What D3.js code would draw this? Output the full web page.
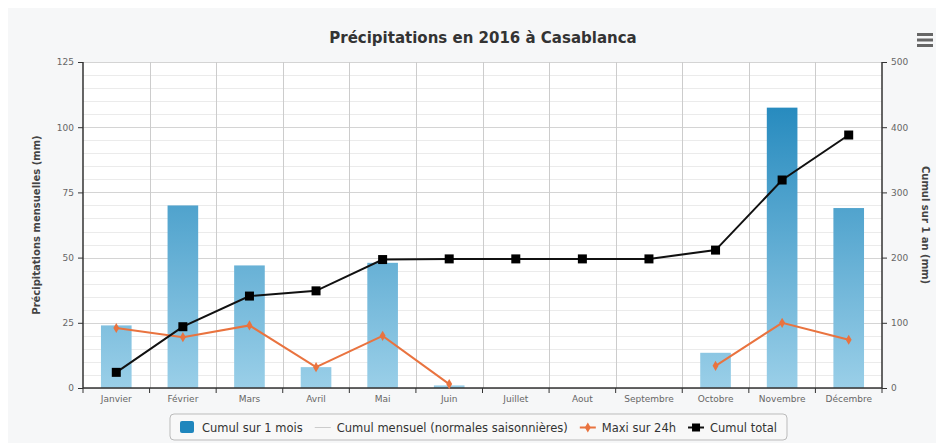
<!DOCTYPE html>
<html>
<head>
<meta charset="utf-8">
<script src="https://cdn.jsdelivr.net/npm/d3@7"></script>
<style>
  body { margin: 0; background: #fff; }
  svg text { font-family: "DejaVu Sans", sans-serif; }
</style>
</head>
<body>
<svg id="chart" width="936" height="443"></svg>
<script>
// données
let months = ['Janvier', 'Février', 'Mars', 'Avril', 'Mai', 'Juin', 'Juillet', 'Aout', 'Septembre', 'Octobre', 'Novembre', 'Décembre'];
let cumulMois = [24, 70, 47, 8, 48, 1, 0, 0, 0, 13.5, 107.5, 69];
let maxi24h = [23, 19.5, 24, 8, 20, 1.5, null, null, null, 8.5, 25, 18.5];
let cumulTotal = [24, 94, 141, 149, 197, 198, 198, 198, 198, 211.5, 319, 388];
let leftTicks = [0, 25, 50, 75, 100, 125];
let rightTicks = [0, 100, 200, 300, 400, 500];
let legendItems = ['Cumul sur 1 mois', 'Cumul mensuel (normales saisonnières)', 'Maxi sur 24h', 'Cumul total'];

let svg = d3.select('#chart');
let pLeft = 83, pRight = 882, pTop = 62, pBottom = 388;

// fond
svg.append('rect').attr('x', 8).attr('y', 8).attr('width', 928).attr('height', 435).attr('fill', '#f6f7f8');
svg.append('rect').attr('x', pLeft).attr('y', pTop).attr('width', pRight - pLeft).attr('height', pBottom - pTop).attr('fill', '#fff');

let x = d3.scaleBand().domain(months).range([pLeft, pRight]);
let yL = d3.scaleLinear().domain([0, 125]).range([pBottom, pTop]);
let yR = d3.scaleLinear().domain([0, 500]).range([pBottom, pTop]);

let defs = svg.append('defs');
let grad = defs.append('linearGradient').attr('id', 'barGrad')
    .attr('gradientUnits', 'userSpaceOnUse')
    .attr('x1', 0).attr('x2', 0).attr('y1', pTop).attr('y2', pBottom);
grad.append('stop').attr('offset', '0%').attr('stop-color', '#1580b8');
grad.append('stop').attr('offset', '100%').attr('stop-color', '#9acfe8');

// grille
let grid = svg.append('g');
grid.selectAll('.minor').data(d3.range(0, 126, 5)).join('line')
    .attr('x1', pLeft).attr('x2', pRight)
    .attr('y1', d => Math.round(yL(d)) + 0.5).attr('y2', d => Math.round(yL(d)) + 0.5)
    .attr('stroke', d => d % 25 === 0 ? '#d4d4d4' : '#ebebeb');
grid.selectAll('.vline').data(months.slice(1)).join('line')
    .attr('x1', d => Math.round(x(d)) + 0.5).attr('x2', d => Math.round(x(d)) + 0.5)
    .attr('y1', pTop).attr('y2', pBottom)
    .attr('stroke', '#cccccc');

// barres
svg.append('g').selectAll('rect').data(months).join('rect')
    .attr('x', d => x(d) + x.bandwidth() * 0.27)
    .attr('width', x.bandwidth() * 0.46)
    .attr('y', (d, i) => yL(cumulMois[i]))
    .attr('height', (d, i) => pBottom - yL(cumulMois[i]))
    .attr('fill', 'url(#barGrad)');

// axes
let axL = svg.append('g').attr('transform', `translate(${pLeft},0)`)
    .call(d3.axisLeft(yL).tickValues(leftTicks).tickSize(5).tickPadding(4));
let axR = svg.append('g').attr('transform', `translate(${pRight},0)`)
    .call(d3.axisRight(yR).tickValues(rightTicks).tickSize(5).tickPadding(4));
let axB = svg.append('g').attr('transform', `translate(0,${pBottom})`)
    .call(d3.axisBottom(x).tickSize(0).tickPadding(8));
axB.selectAll('.tick').append('line')
    .attr('x1', -x.bandwidth() / 2).attr('x2', -x.bandwidth() / 2).attr('y1', 0).attr('y2', 5)
    .attr('stroke', '#333');
axB.append('line').attr('x1', pRight).attr('x2', pRight).attr('y1', 0).attr('y2', 5).attr('stroke', '#333');
[axL, axR, axB].forEach(a => {
    a.select('.domain').attr('stroke', '#333').attr('stroke-width', 1.5);
    a.selectAll('.tick line').attr('stroke', '#333');
    a.selectAll('text').attr('fill', '#666').style('font-size', '9px');
});
axB.select('.domain').attr('d', `M${pLeft},0H${pRight}`);
axL.select('.domain').attr('d', `M0,${pTop}V${pBottom}`);
axR.select('.domain').attr('d', `M0,${pTop}V${pBottom}`);

// courbe maxi 24h
let lineL = d3.line().defined(d => d[1] !== null).x(d => x(d[0]) + x.bandwidth() / 2).y(d => yL(d[1]));
let maxiData = months.map((m, i) => [m, maxi24h[i]]);
svg.append('path').datum(maxiData).attr('d', lineL)
    .attr('fill', 'none').attr('stroke', '#e9733f').attr('stroke-width', 2);
svg.append('g').selectAll('path').data(maxiData.filter(d => d[1] !== null)).join('path')
    .attr('d', d3.symbol(d3.symbolDiamond, 30))
    .attr('transform', d => `translate(${x(d[0]) + x.bandwidth() / 2},${yL(d[1])})`)
    .attr('fill', '#e9733f');

// cumul total
let totalData = months.map((m, i) => [m, cumulTotal[i]]);
let lineR = d3.line().x(d => x(d[0]) + x.bandwidth() / 2).y(d => yR(d[1]));
svg.append('path').datum(totalData).attr('d', lineR)
    .attr('fill', 'none').attr('stroke', '#111').attr('stroke-width', 2);
svg.append('g').selectAll('rect').data(totalData).join('rect')
    .attr('x', d => x(d[0]) + x.bandwidth() / 2 - 4.5)
    .attr('y', d => yR(d[1]) - 4.5)
    .attr('width', 9).attr('height', 9).attr('fill', '#000');

// titres
svg.append('text').attr('x', 483).attr('y', 43).attr('text-anchor', 'middle')
    .style('font-size', '15px').style('font-weight', 'bold').attr('fill', '#333')
    .text('Précipitations en 2016 à Casablanca');
svg.append('text').attr('transform', `translate(40,${(pTop + pBottom) / 2}) rotate(-90)`)
    .attr('text-anchor', 'middle').style('font-size', '10px').style('font-weight', 'bold').attr('fill', '#444')
    .text('Précipitations mensuelles (mm)');
svg.append('text').attr('transform', `translate(922,${(pTop + pBottom) / 2}) rotate(90)`)
    .attr('text-anchor', 'middle').style('font-size', '10px').style('font-weight', 'bold').attr('fill', '#444')
    .text('Cumul sur 1 an (mm)');

// menu
svg.append('g').selectAll('rect').data([0, 1, 2]).join('rect')
    .attr('x', 917).attr('y', d => 33 + d * 5.5).attr('width', 16).attr('height', 3).attr('fill', '#666');

// légende
let leg = svg.append('g');
let legBox = leg.append('rect').attr('y', 414).attr('height', 26).attr('rx', 4)
    .attr('fill', '#f8f8f8').attr('stroke', '#bbb');
let cx = 180;
legendItems.forEach((name, i) => {
    let g = leg.append('g');
    if (i === 0) {
        g.append('rect').attr('x', cx).attr('y', 421).attr('width', 14).attr('height', 12).attr('rx', 2).attr('fill', '#1f86bd');
    } else if (i === 1) {
        g.append('line').attr('x1', cx).attr('x2', cx + 16).attr('y1', 427.5).attr('y2', 427.5).attr('stroke', '#ccc');
    } else if (i === 2) {
        g.append('line').attr('x1', cx).attr('x2', cx + 16).attr('y1', 427.5).attr('y2', 427.5).attr('stroke', '#e9733f').attr('stroke-width', 2);
        g.append('path').attr('d', d3.symbol(d3.symbolDiamond, 30)).attr('transform', `translate(${cx + 8},427.5)`).attr('fill', '#e9733f');
    } else {
        g.append('line').attr('x1', cx).attr('x2', cx + 16).attr('y1', 427.5).attr('y2', 427.5).attr('stroke', '#111').attr('stroke-width', 2);
        g.append('rect').attr('x', cx + 4).attr('y', 423.5).attr('width', 8).attr('height', 8).attr('fill', '#000');
    }
    let t = g.append('text').attr('x', cx + 22).attr('y', 431.5).style('font-size', '11.5px').attr('fill', '#333').text(name);
    cx += 22 + t.node().getComputedTextLength() + 12;
});
legBox.attr('x', 170).attr('width', cx - 172);
</script>
</body>
</html>
